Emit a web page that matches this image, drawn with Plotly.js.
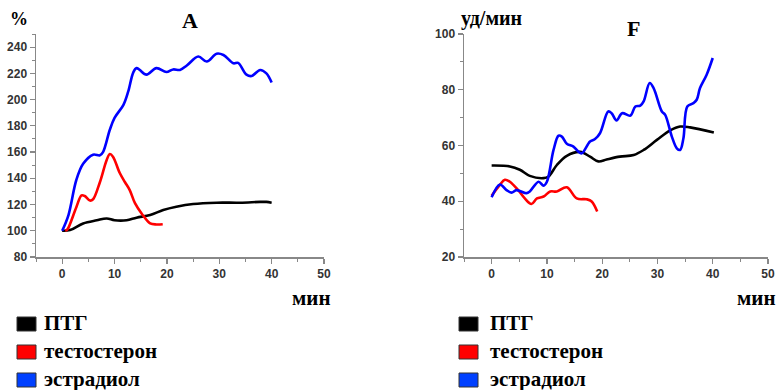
<!DOCTYPE html>
<html><head><meta charset="utf-8">
<script src="https://cdn.plot.ly/plotly-3.0.1.min.js"></script>
<style>html,body{margin:0;padding:0;background:#fff}#c{width:782px;height:390px}</style>
</head><body><div id="c"></div>
<script>
// Panel A (%)
const A_ptg_t = [0, 1.5, 4, 6.6, 8.5, 10, 12.3, 14.2, 16.8, 19.3, 21.8, 25, 29.5, 34, 37.8, 39, 40];
const A_ptg_v = [100, 100.5, 105.6, 108, 109.4, 108, 108, 110, 112, 115.8, 118.3, 120.4, 121.4, 121.4, 122, 122, 121.4];
const A_test_t = [0.6, 1.0, 2.7, 3.7, 4.3, 5.3, 5.9, 7.2, 8.5, 9.1, 9.7, 11, 12, 12.9, 13.9, 15.2, 16.8, 18, 19.2];
const A_test_v = [100, 101, 118, 127, 126.5, 123, 124, 137, 154, 158.5, 156.5, 144, 137, 131, 121, 113, 105.6, 104.8, 105];
const A_estr_t = [0, 1.2, 2.7, 4.0, 5.9, 7.2, 7.8, 9.1, 10, 11.7, 12.6, 13.6, 14.2, 14.8, 16.1, 18, 19.9, 21.2, 22.5, 23.8, 26, 27.6, 29.5, 30.8, 32.7, 33.6, 35.2, 36.2, 37.8, 39, 40];
const A_estr_v = [100, 112, 138.7, 151, 158, 157.5, 160, 177, 186, 196, 206, 221, 224, 222.6, 219, 224, 221, 223, 222.6, 226, 232.8, 229, 235, 234, 227.7, 228, 219, 218, 222.6, 220, 213];

// Panel F (уд/мин)
const F_ptg_t = [0, 3.3, 5.1, 6.9, 9.4, 10.3, 11.8, 13.6, 16, 17.8, 19.3, 20.8, 23.2, 25.7, 27.5, 29.9, 32.3, 34.1, 35.9, 40.2];
const F_ptg_v = [52.8, 52.5, 51.3, 49.1, 48.3, 48.9, 53, 56.3, 57.7, 56, 54.3, 55, 56, 56.6, 58.4, 62, 65.4, 66.8, 66.5, 64.7];
const F_test_t = [0, 1.5, 2.4, 3.3, 4.8, 6, 7.2, 8.2, 9.4, 10.6, 11.8, 13.6, 15.4, 17.2, 18.1, 19.1];
const F_test_v = [42, 45.9, 47.7, 47, 44, 41, 39, 41, 41.7, 43.5, 43.5, 45, 41, 40.7, 39.9, 36.3];
const F_estr_t = [0, 1.5, 2.7, 3.6, 4.5, 6.3, 6.9, 8.5, 9.4, 10, 11.2, 12.1, 12.7, 13.6, 14.8, 15.7, 16.3, 17.8, 18.7, 19.6, 21.1, 21.7, 22.6, 23.6, 25.1, 26, 26.9, 27.5, 28.6, 29.3, 30.8, 31.4, 32.6, 33.5, 34.1, 34.7, 35.4, 36.5, 37.1, 37.7, 38.9, 40];
const F_estr_v = [41.4, 46, 44, 43.1, 44, 42.9, 43.5, 47, 45.6, 47, 58.4, 63.5, 63.2, 60.6, 59.6, 57.8, 57.2, 61.4, 62.3, 64.4, 72.2, 71.6, 69, 71.6, 70.7, 74, 74.3, 75.8, 82.4, 80.6, 72.2, 71, 63.2, 59, 58.4, 62.6, 74, 75.2, 76.4, 80.6, 85.4, 91.4];

const seriesNames = ['ПТГ', 'тестостерон', 'эстрадиол'];
const seriesColors = ['#000000', '#ff0000', '#0000ff'];
const legendFill = ['#000000', '#ff0000', '#0040ff'];
const panelTitles = ['A', 'F'];
const yTitles = ['%', 'уд/мин'];
const xTitle = 'мин';

const W = 782, H = 390;
const px = x => x / W, py = y => 1 - y / H;

function tr(t, v, i, xa, ya) {
  return {x: t, y: v, type: 'scatter', mode: 'lines', name: seriesNames[i], showlegend: false,
    xaxis: xa, yaxis: ya, line: {color: seriesColors[i], width: 2.6, shape: 'spline', smoothing: 1}};
}
const data = [
  tr(A_ptg_t, A_ptg_v, 0, 'x', 'y'), tr(A_test_t, A_test_v, 1, 'x', 'y'), tr(A_estr_t, A_estr_v, 2, 'x', 'y'),
  tr(F_ptg_t, F_ptg_v, 0, 'x2', 'y2'), tr(F_test_t, F_test_v, 1, 'x2', 'y2'), tr(F_estr_t, F_estr_v, 2, 'x2', 'y2')
];

const tickFont = {family: 'Liberation Sans, Arial, sans-serif', size: 12, color: '#333', weight: 'bold'};
function ax(extra) {
  return Object.assign({showline: true, linecolor: '#888', linewidth: 1.5, ticks: 'outside', ticklen: 5, tickwidth: 1.2,
    tickcolor: '#888', showgrid: false, zeroline: false, tickfont: tickFont, fixedrange: true}, extra);
}
const yDom = [py(257), py(34)];
const serif = 'Liberation Serif, Times New Roman, serif';

const annotations = [];
const shapes = [];
function txt(x, y, s, size, anchor) {
  annotations.push({xref: 'paper', yref: 'paper', x: px(x), y: py(y), text: s, showarrow: false,
    xanchor: anchor || 'center', yanchor: 'middle', borderpad: 0,
    font: {family: serif, size: size, color: '#000', weight: 'bold'}});
}
txt(190, 20, panelTitles[0], 22);
txt(633, 29, panelTitles[1], 22);
txt(9, 19, yTitles[0], 18, 'left');
txt(460, 18, yTitles[1], 20, 'left');
txt(291, 298, xTitle, 21, 'left');
txt(736, 298, xTitle, 21, 'left');

const rowY = [324, 352, 380];
[[17, 43], [459, 489]].forEach(([sx, tx]) => {
  for (let i = 0; i < 3; i++) {
    shapes.push({type: 'rect', xref: 'paper', yref: 'paper', x0: px(sx), x1: px(sx + 19), y0: py(rowY[i] + 7), y1: py(rowY[i] - 7),
      fillcolor: legendFill[i], line: {color: '#333', width: 1}});
    txt(tx, rowY[i] - 1, seriesNames[i], 21, 'left');
  }
});

const mn = (d, t0) => ({ticks: 'outside', ticklen: 3, tickcolor: '#888', tickwidth: 1, dtick: d, tick0: t0});
const layout = {
  width: W, height: H, margin: {l: 0, r: 0, t: 0, b: 0}, paper_bgcolor: '#fff', plot_bgcolor: '#fff',
  showlegend: false,
  xaxis: ax({domain: [px(36), px(324)], range: [-5, 50], dtick: 10, tick0: 0, minor: mn(5, 0), anchor: 'y'}),
  yaxis: ax({domain: yDom, range: [80, 250], dtick: 20, tick0: 80, minor: mn(10, 80), anchor: 'x'}),
  xaxis2: ax({domain: [px(464), px(768)], range: [-5, 50], dtick: 10, tick0: 0, minor: mn(5, 0), anchor: 'y2'}),
  yaxis2: ax({domain: yDom, range: [20, 100], dtick: 20, tick0: 20, minor: mn(10, 20), anchor: 'x2'}),
  annotations: annotations, shapes: shapes
};
Plotly.newPlot('c', data, layout, {displayModeBar: false, staticPlot: true});
</script></body></html>
